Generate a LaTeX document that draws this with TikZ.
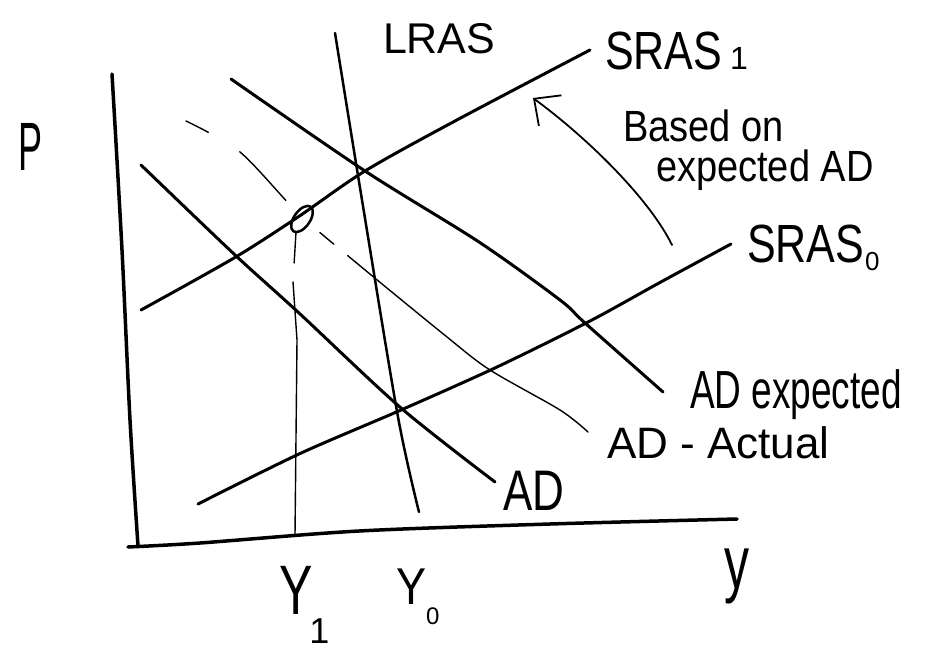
\documentclass[tikz,border=0pt]{standalone}
\usepackage{fontspec}
\setmainfont{Liberation Sans}
\usepackage{graphicx}
\usetikzlibrary{arrows.meta}
\newcommand{\tallt}[2]{\scalebox{1}[#1]{#2}}
\newcommand{\fs}[1]{\fontsize{#1}{#1}\selectfont}
\tikzset{
  curve/.style={line width=3pt, line cap=round, line join=round},
  axisline/.style={line width=3.5pt, line cap=round, line join=round},
  thinline/.style={line width=1.4pt, line cap=round, line join=round},
  lbl/.style={inner sep=0pt, outer sep=0pt, anchor=base west},
}
\begin{document}
\begin{tikzpicture}[x=1pt,y=-1pt]
\useasboundingbox (0,0) rectangle (933,655);
% axes
\coordinate (ptop) at (112,74);
\coordinate (orig) at (138,546);
\coordinate (yend) at (737,519);
\draw[axisline] plot[smooth] coordinates {(ptop) (122,250) (130,420) (orig)};
\draw[axisline] plot[smooth] coordinates {(128,547) (200,543) (359,531) (550,524) (yend)};
% LRAS
\draw[curve, line width=2.5pt] plot[smooth] coordinates {(335,33) (362,200) (398,417) (419,512)};
% SRAS1
\draw[curve] plot[smooth] coordinates {(141,310) (234,258) (298,217) (365,171) (455,121) (590,50)};
% SRAS0
\draw[curve] plot[smooth] coordinates {(198,504) (299,454) (401,410) (497,367) (590,321) (659,283) (731,244)};
% AD
\draw[curve] plot[smooth] coordinates {(141,165) (234,254) (299,313) (401,408) (495,482)};
% AD expected
\draw[curve] plot[smooth] coordinates {(231,79) (365,171) (479,242) (560,300) (585,323) (663,392)};
% AD actual (dashed, thin)
\draw[thinline, dash pattern=on 25pt off 37pt on 67pt off 47pt on 18pt off 18pt on 600pt]
  plot[smooth] coordinates {(186,121) (240,152) (298,213) (353,260) (447,337) (490,370) (560,410) (588,432)};
% point on SRAS1
\coordinate (pt) at (302,219);
\draw[line width=2.5pt, rotate around={-35:(pt)}] (pt) ellipse [x radius=8, y radius=15];
% Y1 guide
\draw[thinline, dash pattern=on 31pt off 19pt on 600pt] (296,232) -- (293,282) -- (297,340) -- (295,535);
% arrow
\coordinate (arrS) at (672,245);
\coordinate (arrT) at (533,98);
\draw[line width=1.8pt, line cap=round, -{Straight Barb[length=20pt,width=38pt]}] (arrS) .. controls (650,200) and (590,140) .. (arrT);
% labels
\node[lbl, font=\fs{36}] (P) at (18,171) {\tallt{1.9}{P}};
\node[lbl, font=\fs{43}] (LRAS) at (383,54) {LRAS};
\node[lbl, font=\fs{43}] (SRAS1) at (605,70) {\tallt{1.25}{SRAS}\hspace{8pt}{\fs{32}1}};
\node[lbl, font=\fs{43}] (SRAS0) at (747,262) {\tallt{1.25}{SRAS}\hspace{1pt}\raisebox{-8pt}{\fs{26}0}};
\node[lbl, align=left, font=\fontsize{38}{40}\selectfont] (based) at (623,182)
  {\tallt{1.15}{Based on}\\\hspace*{33pt}\tallt{1.15}{expected AD}};
\node[lbl, font=\fs{37}] (ADexp) at (690,408) {\tallt{1.45}{AD expected}};
\node[lbl, font=\fs{44}] (ADact) at (607,458) {AD - Actual};
\node[lbl, font=\fs{44}] (AD) at (503,510) {\tallt{1.3}{AD}};
\node[lbl, font=\fs{50}] (Y1) at (279,614) {\tallt{1.4}{Y}\hspace{-3pt}\raisebox{-29pt}{\fs{36}1}};
\node[lbl, font=\fs{45}] (Y0) at (396,604) {\tallt{1.15}{Y}\hspace{0pt}\raisebox{-20pt}{\fs{24}0}};
\node[lbl, font=\fs{50}] (yax) at (724,588) {\tallt{1.5}{y}};
\end{tikzpicture}
\end{document}
